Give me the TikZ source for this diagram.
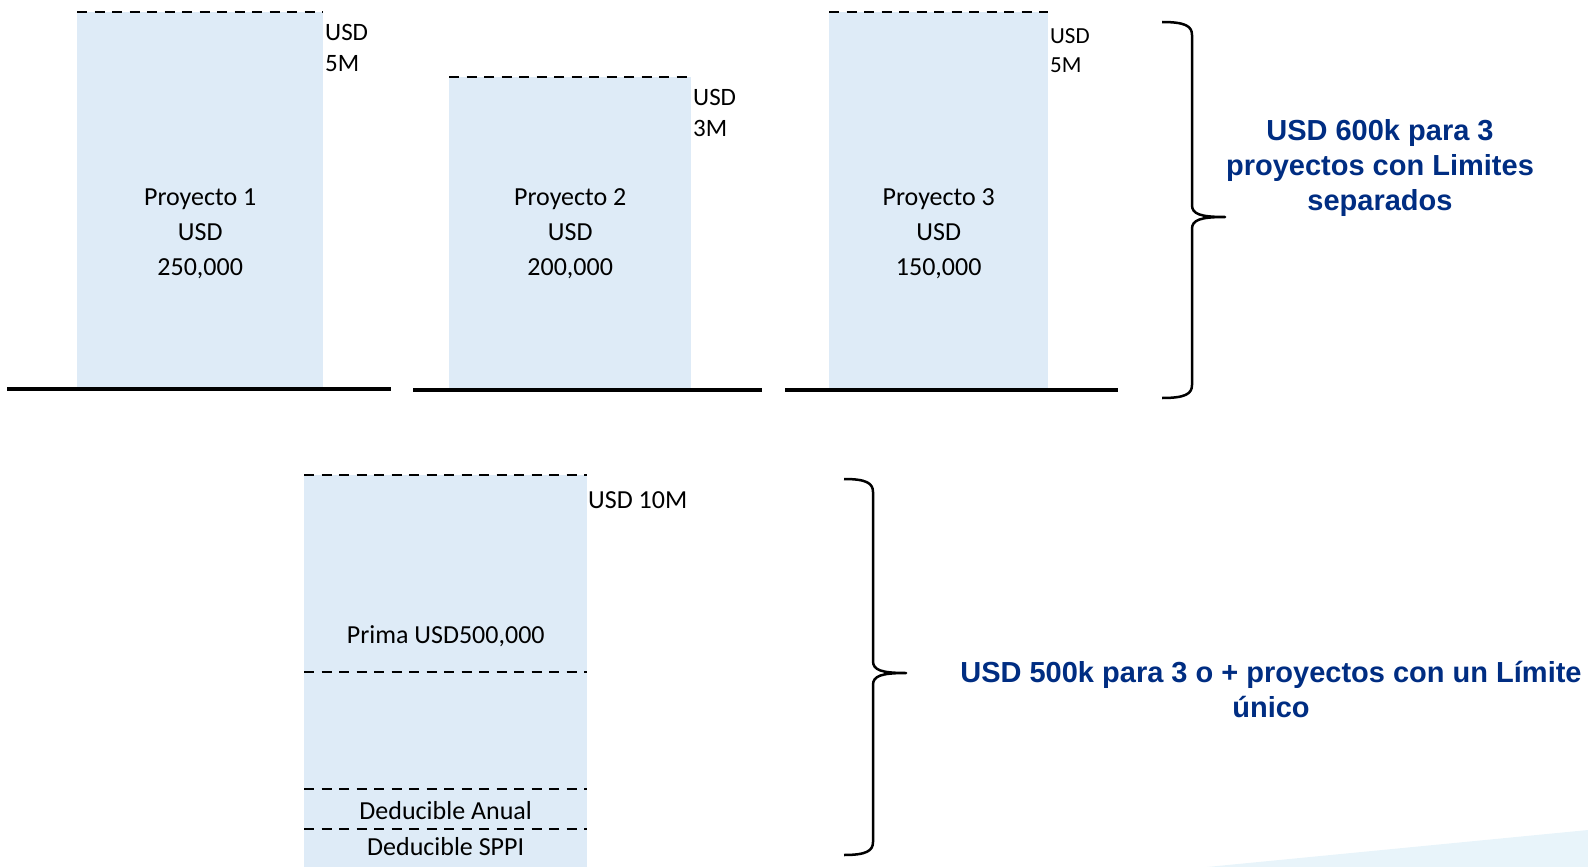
\documentclass[tikz,border=0pt]{standalone}
\usepackage{fontspec}
\setmainfont{Carlito}
\newfontfamily\arialfont{Liberation Sans}
\usetikzlibrary{positioning}
\definecolor{barblue}{RGB}{222,235,247}
\definecolor{navy}{RGB}{0,45,130}
\definecolor{wave}{RGB}{232,244,250}
\tikzset{
  every picture/.style={line join=round},
  bar/.style={fill=barblue, inner sep=0pt, anchor=north west},
  limitline/.style={dash pattern=on 10pt off 7.5pt, line width=2.5pt},
  floor/.style={line width=3.5pt},
  brace/.style={line width=2.5pt},
  amount/.style={font=\fontsize{26}{35}\selectfont, align=center, inner sep=0pt},
  caplabel/.style={font=\fontsize{25}{31}\selectfont, align=left, inner sep=0pt, anchor=west},
  note/.style={font=\arialfont\bfseries\fontsize{29}{35}\selectfont, text=navy, align=center, inner sep=0pt},
}
\begin{document}
\begin{tikzpicture}[x=1pt,y=-1pt]
\useasboundingbox (0,0) rectangle (1588,867);
\fill[wave] (1207,867) -- (1588,830) -- (1588,867) -- cycle;
% three projects, separate limits
\node[bar, minimum width=246pt, minimum height=377pt] (p1) at (77,12) {};
\node[bar, minimum width=242pt, minimum height=313pt] (p2) at (449,77) {};
\node[bar, minimum width=219pt, minimum height=378pt] (p3) at (829,12) {};
\foreach \p in {p1,p2,p3} \draw[limitline] (\p.north west) -- (\p.north east);
\draw[floor] (7,389) -- (391,389) (413,390) -- (762,390) (785,390) -- (1118,390);
\node[amount] (a1) at (p1.center |- 0,234) {Proyecto 1\\USD\\250,000};
\node[amount] (a2) at (p2.center |- 0,234) {Proyecto 2\\USD\\200,000};
\node[amount] (a3) at (p3.center |- 0,234) {Proyecto 3\\USD\\150,000};
\node[caplabel] (l1) at (325,48) {USD\\5M};
\node[caplabel] (l2) at (693,113) {USD\\3M};
\node[caplabel, font=\fontsize{23}{29}\selectfont] (l3) at (1050,51) {USD\\5M};
\draw[brace] (1162,22) .. controls (1185,22) and (1192,26) .. (1192,35) -- (1192,205)
  .. controls (1192,214) and (1200,217) .. (1225,217)
  .. controls (1200,217) and (1192,220) .. (1192,229) -- (1192,385)
  .. controls (1192,394) and (1185,398) .. (1162,398);
\node[note] (n1) at (1380,168) {USD 600k para 3\\proyectos con Limites\\separados};
% one shared limit
\node[bar, minimum width=283pt, minimum height=392pt] (p4) at (304,475) {};
\foreach \y in {475,672,789,829} \draw[limitline] (p4.west |- 0,\y) -- (p4.east |- 0,\y);
\node[caplabel, font=\fontsize{26}{31}\selectfont] (l4) at (588,500) {USD 10M};
\node[amount] (prima) at (p4.center |- 0,636) {Prima USD500,000};
\node[amount] (anual) at (p4.center |- 0,811) {Deducible Anual};
\node[amount] (sppi) at (p4.center |- 0,847) {Deducible SPPI};
\draw[brace] (844,479) .. controls (866,479) and (873,483) .. (873,492) -- (873,661)
  .. controls (873,670) and (881,673) .. (906,673)
  .. controls (881,673) and (873,676) .. (873,685) -- (873,842)
  .. controls (873,851) and (866,855) .. (844,855);
\node[note] (n2) at (1271,690) {USD 500k para 3 o + proyectos con un Límite\\único};
\end{tikzpicture}
\end{document}
